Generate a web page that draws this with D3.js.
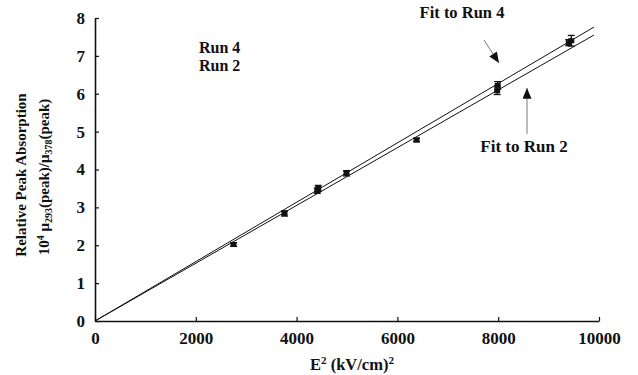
<!DOCTYPE html>
<html>
<head>
<meta charset="utf-8">
<script src="https://cdn.jsdelivr.net/npm/d3@7"></script>
<style>
  body { margin: 0; background: #fff; }
  svg { display: block; }
  text { font-family: "Liberation Serif", "Times New Roman", serif; font-weight: bold; fill: #111; }
</style>
</head>
<body>
<svg id="chart"></svg>
<script>
// data
const run4X = [2750, 3760, 4430, 4990, 6380, 7990, 9450]
const run4Y = [2.02, 2.84, 3.50, 3.90, 4.78, 6.22, 7.40]
const run4Err = [0.05, 0.07, 0.08, 0.07, 0.05, 0.10, 0.14]

const run2X = [4410, 7980, 9400]
const run2Y = [3.44, 6.08, 7.35]
const run2Err = [0.07, 0.10, 0.08]

// fitted straight lines (end points)
const fit4 = [[0, 0], [9900, 7.76]]
const fit2 = [[0, 0], [9900, 7.55]]

const xTicks = [0, 2000, 4000, 6000, 8000, 10000]
const yTicks = [0, 1, 2, 3, 4, 5, 6, 7, 8]

let width = 638, height = 375

let svg = d3.select('#chart').attr('width', width).attr('height', height)

let scX = d3.scaleLinear().domain([0, 10000]).range([95, 599])
let scY = d3.scaleLinear().domain([0, 8]).range([321, 18])

// axes, ticks pointing inward
let xAxis = d3.axisBottom(scX).tickValues(xTicks).tickFormat(d3.format('d'))
  .tickSizeInner(-4).tickSizeOuter(0).tickPadding(11)
let yAxis = d3.axisLeft(scY).tickValues(yTicks).tickFormat(d3.format('d'))
  .tickSizeInner(-4).tickSizeOuter(0).tickPadding(10)

let gx = svg.append('g').attr('transform', `translate(0, ${scY(0)})`).call(xAxis)
let gy = svg.append('g').attr('transform', `translate(${scX(0)}, 0)`).call(yAxis)

;[gx, gy].forEach(g => {
  g.select('.domain').attr('stroke', '#111').attr('stroke-width', 1.6)
  g.selectAll('.tick line').attr('stroke', '#111').attr('stroke-width', 1.2)
  g.selectAll('.tick text').style('font-family', '"Liberation Serif", serif')
    .style('font-weight', 'bold').style('font-size', '17px').attr('fill', '#111')
})

// fit lines
let lineMkr = d3.line().x(d => scX(d[0])).y(d => scY(d[1]))
;[fit4, fit2].forEach(f => {
  svg.append('path').attr('d', lineMkr(f))
    .attr('fill', 'none').attr('stroke', '#111').attr('stroke-width', 1)
})

// points with error bars
const drawRun = (xs, ys, es) => {
  let pts = xs.map((x, i) => ({x: x, y: ys[i], e: es[i]}))
  let g = svg.append('g')
  let bars = g.selectAll('g').data(pts).enter().append('g')
  bars.append('line')
    .attr('x1', d => scX(d.x)).attr('x2', d => scX(d.x))
    .attr('y1', d => scY(d.y + d.e)).attr('y2', d => scY(d.y - d.e))
    .attr('stroke', '#111').attr('stroke-width', 1.3)
  ;[1, -1].forEach(s => {
    bars.append('line')
      .attr('x1', d => scX(d.x) - 3.5).attr('x2', d => scX(d.x) + 3.5)
      .attr('y1', d => scY(d.y + s * d.e)).attr('y2', d => scY(d.y + s * d.e))
      .attr('stroke', '#111').attr('stroke-width', 1.3)
  })
  bars.append('rect')
    .attr('x', d => scX(d.x) - 3).attr('y', d => scY(d.y) - 2.5)
    .attr('width', 6).attr('height', 5).attr('fill', '#111')
}
drawRun(run4X, run4Y, run4Err)
drawRun(run2X, run2Y, run2Err)

// legend text
svg.append('text').attr('x', 199).attr('y', 53).style('font-size', '16px').text('Run 4')
svg.append('text').attr('x', 199).attr('y', 71).style('font-size', '16px').text('Run 2')

// annotations with arrows
svg.append('defs').append('marker')
  .attr('id', 'head').attr('viewBox', '0 0 12 10').attr('refX', 12).attr('refY', 5)
  .attr('markerWidth', 13).attr('markerHeight', 9).attr('markerUnits', 'userSpaceOnUse')
  .attr('orient', 'auto')
  .append('path').attr('d', 'M0,0 L12,5 L0,10 Z').attr('fill', '#111')

svg.append('text').attr('x', 462).attr('y', 18).attr('text-anchor', 'middle')
  .style('font-size', '16.5px').text('Fit to Run 4')
svg.append('line').attr('x1', 484).attr('y1', 40).attr('x2', 499).attr('y2', 63)
  .attr('stroke', '#555').attr('stroke-width', 0.8).attr('marker-end', 'url(#head)')

svg.append('text').attr('x', 524).attr('y', 152).attr('text-anchor', 'middle')
  .style('font-size', '17px').text('Fit to Run 2')
svg.append('line').attr('x1', 527).attr('y1', 134).attr('x2', 527).attr('y2', 88)
  .attr('stroke', '#555').attr('stroke-width', 0.8).attr('marker-end', 'url(#head)')

// axis titles
let xt = svg.append('text').attr('x', 352).attr('y', 370).attr('text-anchor', 'middle')
  .style('font-size', '16.5px')
xt.append('tspan').text('E')
xt.append('tspan').attr('dy', -6).style('font-size', '11px').text('2')
xt.append('tspan').attr('dy', 6).text(' (kV/cm)')
xt.append('tspan').attr('dy', -6).style('font-size', '11px').text('2')

svg.append('text').attr('transform', 'translate(26, 175) rotate(-90)')
  .attr('text-anchor', 'middle').style('font-size', '15px').text('Relative Peak Absorption')

let yt = svg.append('text').attr('transform', 'translate(49, 177) rotate(-90)')
  .attr('text-anchor', 'middle').style('font-size', '15px')
yt.append('tspan').text('10')
yt.append('tspan').attr('dy', -5).style('font-size', '10px').text('4')
yt.append('tspan').attr('dy', 5).text(' \u03bc')
yt.append('tspan').attr('dy', 3).style('font-size', '10px').text('293')
yt.append('tspan').attr('dy', -3).text('(peak)/\u03bc')
yt.append('tspan').attr('dy', 3).style('font-size', '10px').text('378')
yt.append('tspan').attr('dy', -3).text('(peak)')
</script>
</body>
</html>
